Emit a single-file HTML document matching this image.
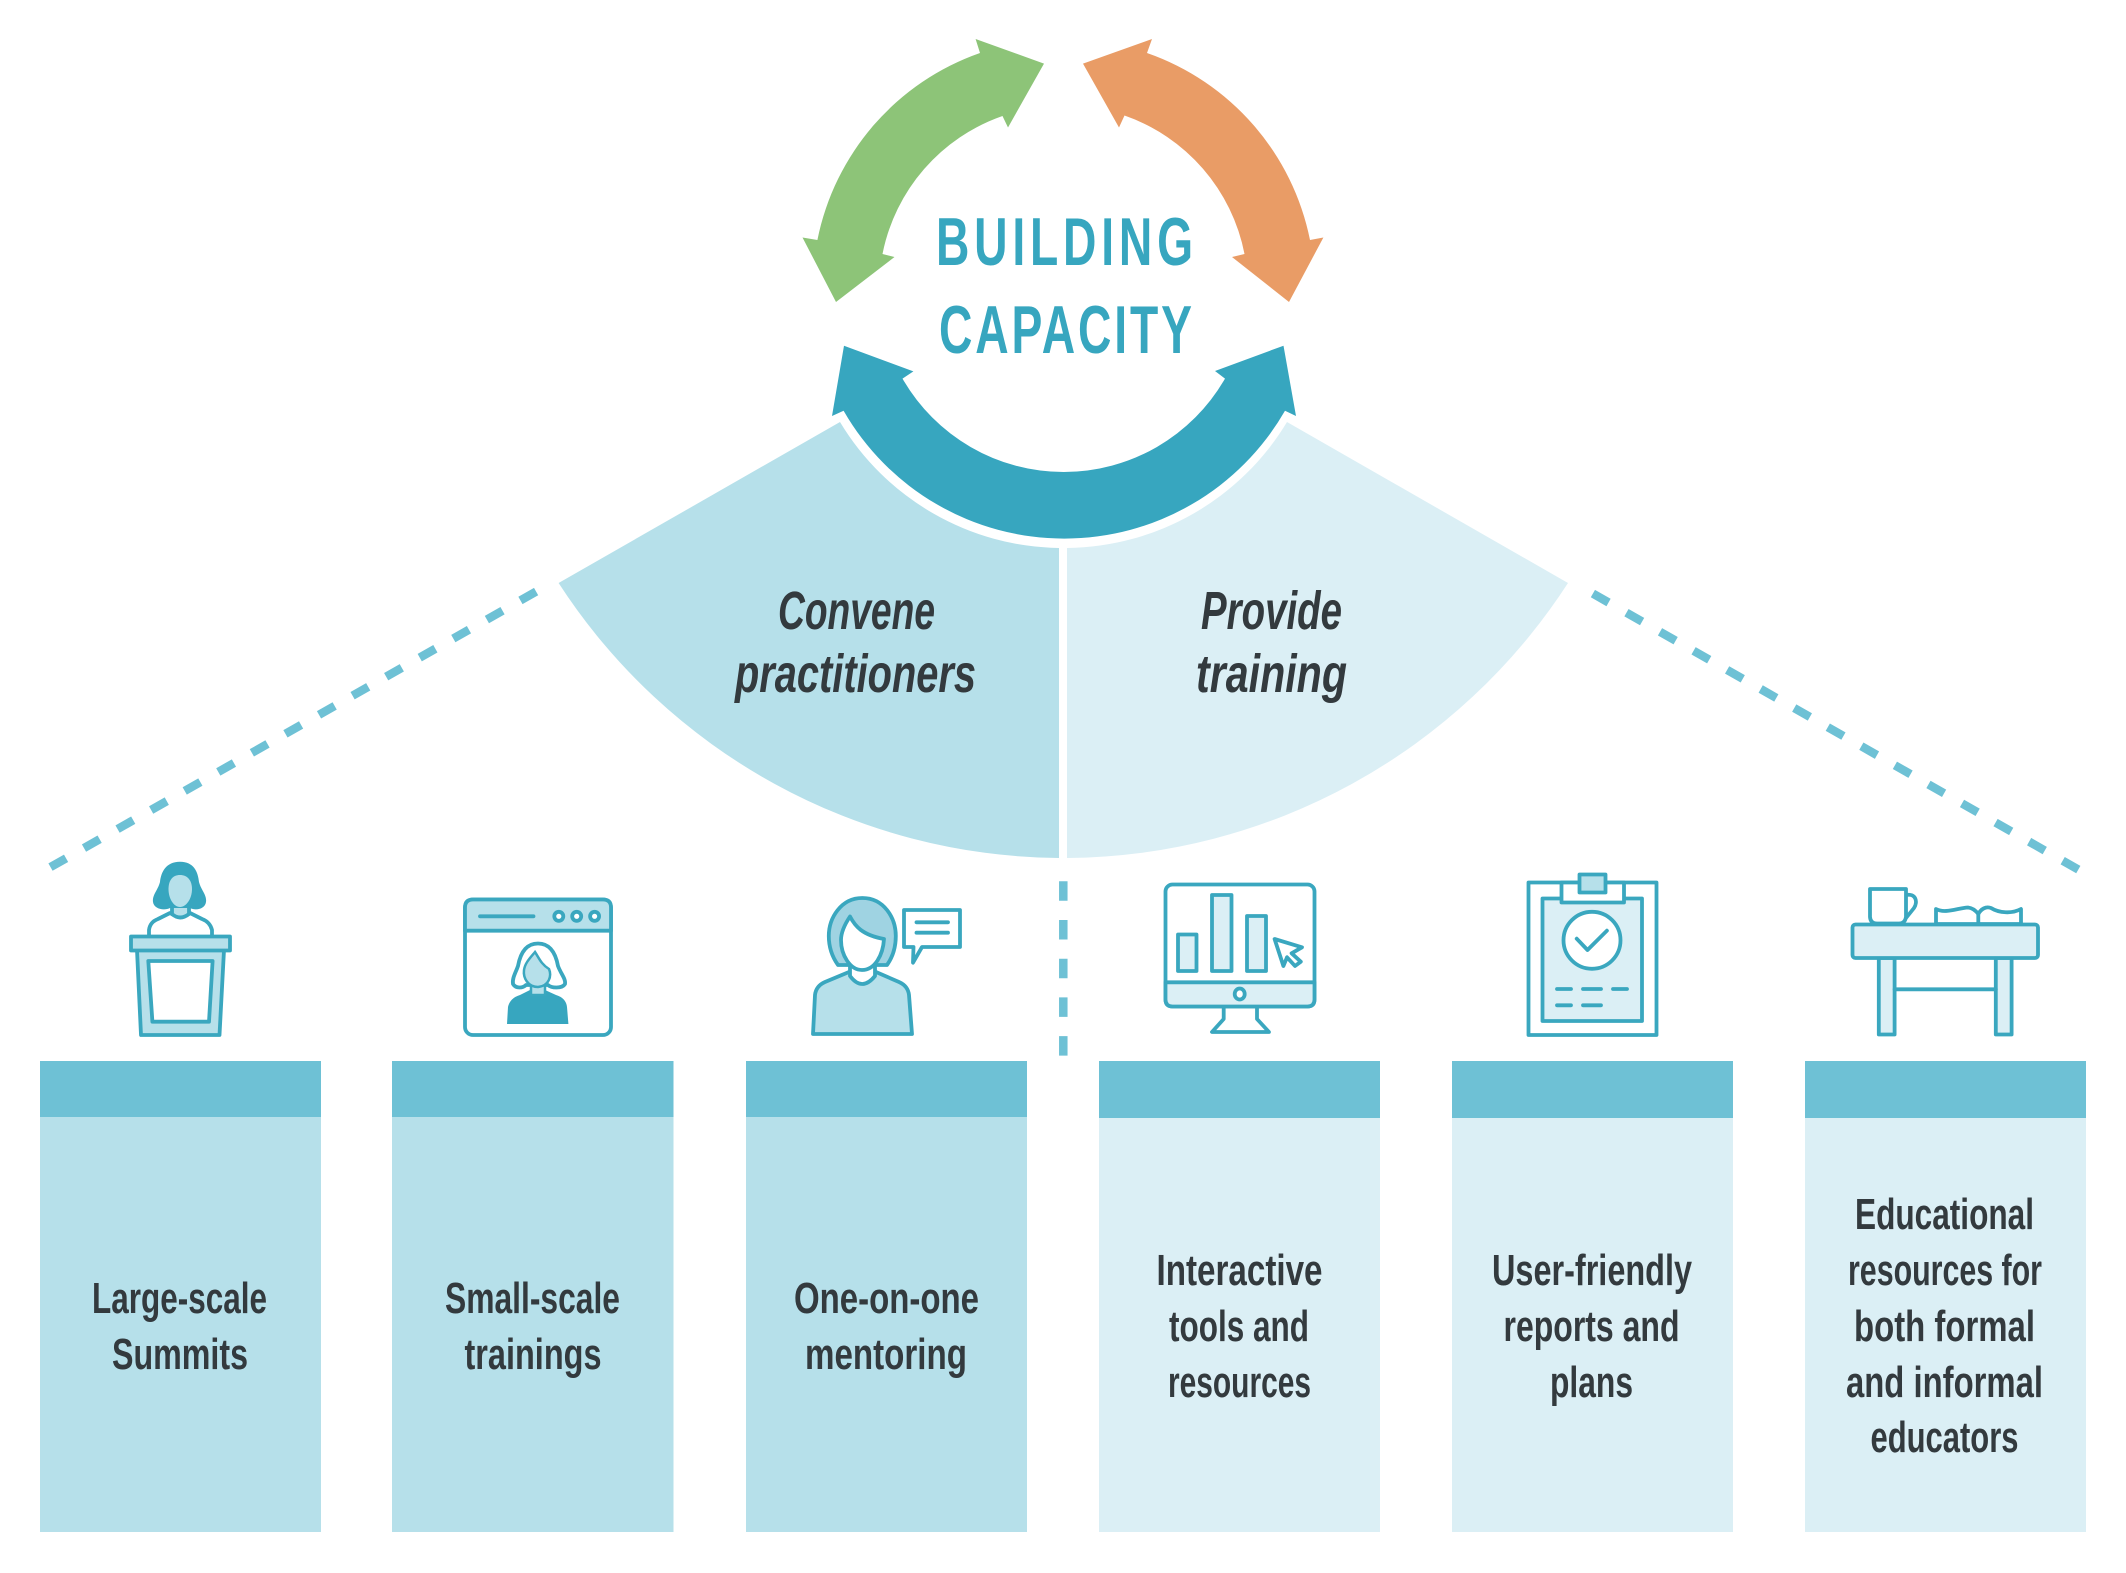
<!DOCTYPE html>
<html><head><meta charset="utf-8"><style>
html,body{margin:0;padding:0;background:#fff;width:2126px;height:1573px;overflow:hidden}
svg{display:block}
text{font-family:"Liberation Sans",sans-serif;font-weight:bold}
.l{font-size:44px;fill:#333a3e}
.i{font-size:54px;fill:#333a3e;font-style:italic}
.t{font-size:68px;fill:#37a6bf}
.s{fill:none;stroke:#3aa7bf;stroke-width:3.8;stroke-linejoin:round;stroke-linecap:round}
.sl{fill:#b6e0ea;stroke:#3aa7bf;stroke-width:3.8;stroke-linejoin:round;stroke-linecap:round}
.sx{fill:#dbeff5;stroke:#3aa7bf;stroke-width:3.8;stroke-linejoin:round;stroke-linecap:round}
.sw{fill:#fff;stroke:#3aa7bf;stroke-width:3.8;stroke-linejoin:round;stroke-linecap:round}
</style></head><body>
<svg width="2126" height="1573" viewBox="0 0 2126 1573" xmlns="http://www.w3.org/2000/svg">
<rect width="2126" height="1573" fill="#fff"/>

<!-- wedges -->
<path d="M840,422 L558.6,583 A602,602 0 0 0 1059,858 L1059,548 A260,260 0 0 1 840,422 Z" fill="#b6e0ea"/>
<path d="M1287,422 L1568,583 A602,602 0 0 1 1067,858 L1067,548 A260,260 0 0 0 1287,422 Z" fill="#dbeff5"/>

<!-- cycle arrows -->
<path d="M1044,63.6 L975.6,39 L980,53 A250,250 0 0 0 817.4,240 L802.5,237.5 L836,302 L894.5,257 L882.5,254 A184,184 0 0 1 1002.5,116 L1008,127.5 Z" fill="#8dc478"/>
<path d="M1083,63.6 L1152,39 L1147,53 A250,250 0 0 1 1310,240 L1323.4,237.5 L1289,302 L1232,257 L1244.5,254 A184,184 0 0 0 1124.5,115.5 L1119,127.5 Z" fill="#e99c66"/>
<path d="M844,345.7 L913.4,371.4 L902.5,378.6 A185.9,185.9 0 0 0 1225,378.6 L1215,371 L1283.5,345.7 L1296,416 L1285,410.7 A254.4,254.4 0 0 1 843.6,410.7 L832,416 Z" fill="#37a6bf"/>

<text class="t" transform="translate(936,265) scale(.68,1)" textLength="378" lengthAdjust="spacing">BUILDING</text>
<text class="t" transform="translate(939,353) scale(.68,1)" textLength="372" lengthAdjust="spacing">CAPACITY</text>

<text class="i" x="778" y="629" textLength="157" lengthAdjust="spacingAndGlyphs">Convene</text>
<text class="i" x="735" y="692" textLength="241" lengthAdjust="spacingAndGlyphs">practitioners</text>
<text class="i" x="1201" y="629" textLength="141" lengthAdjust="spacingAndGlyphs">Provide</text>
<text class="i" x="1196" y="692" textLength="151" lengthAdjust="spacingAndGlyphs">training</text>

<!-- dashed connectors -->
<line x1="536.1" y1="591.6" x2="50.5" y2="867.1" stroke="#6ec1d5" stroke-width="8.5" stroke-dasharray="18 20.6"/>
<line x1="1592.9" y1="593.6" x2="2078.5" y2="869.7" stroke="#6ec1d5" stroke-width="8.5" stroke-dasharray="18 20.6"/>
<line x1="1063.3" y1="881.3" x2="1063.3" y2="1056" stroke="#6ec1d5" stroke-width="8.5" stroke-dasharray="19.5 19.2"/>

<!-- boxes -->
<rect x="40" y="1061" width="281" height="471" fill="#b6e0ea"/><rect x="40" y="1061" width="281" height="56" fill="#6ec1d5"/>
<rect x="392" y="1061" width="281.5" height="471" fill="#b6e0ea"/><rect x="392" y="1061" width="281.5" height="56" fill="#6ec1d5"/>
<rect x="746" y="1061" width="281" height="471" fill="#b6e0ea"/><rect x="746" y="1061" width="281" height="56" fill="#6ec1d5"/>
<rect x="1099" y="1061" width="281" height="471" fill="#dbeff5"/><rect x="1099" y="1061" width="281" height="57" fill="#6ec1d5"/>
<rect x="1452" y="1061" width="281" height="471" fill="#dbeff5"/><rect x="1452" y="1061" width="281" height="57" fill="#6ec1d5"/>
<rect x="1805" y="1061" width="281" height="471" fill="#dbeff5"/><rect x="1805" y="1061" width="281" height="57" fill="#6ec1d5"/>

<!-- labels -->
<text class="l" x="92" y="1313" textLength="175" lengthAdjust="spacingAndGlyphs">Large-scale</text>
<text class="l" x="112" y="1369" textLength="136" lengthAdjust="spacingAndGlyphs">Summits</text>
<text class="l" x="445" y="1313" textLength="175" lengthAdjust="spacingAndGlyphs">Small-scale</text>
<text class="l" x="464.5" y="1369" textLength="137" lengthAdjust="spacingAndGlyphs">trainings</text>
<text class="l" x="794" y="1313" textLength="185" lengthAdjust="spacingAndGlyphs">One-on-one</text>
<text class="l" x="805" y="1369" textLength="162" lengthAdjust="spacingAndGlyphs">mentoring</text>
<text class="l" x="1156.5" y="1285" textLength="166" lengthAdjust="spacingAndGlyphs">Interactive</text>
<text class="l" x="1169" y="1341" textLength="140" lengthAdjust="spacingAndGlyphs">tools and</text>
<text class="l" x="1168" y="1397" textLength="143" lengthAdjust="spacingAndGlyphs">resources</text>
<text class="l" x="1492" y="1285" textLength="200" lengthAdjust="spacingAndGlyphs">User-friendly</text>
<text class="l" x="1503.5" y="1341" textLength="176" lengthAdjust="spacingAndGlyphs">reports and</text>
<text class="l" x="1550" y="1397" textLength="83" lengthAdjust="spacingAndGlyphs">plans</text>
<text class="l" x="1855" y="1229" textLength="179" lengthAdjust="spacingAndGlyphs">Educational</text>
<text class="l" x="1848" y="1285" textLength="194" lengthAdjust="spacingAndGlyphs">resources for</text>
<text class="l" x="1854" y="1341" textLength="181" lengthAdjust="spacingAndGlyphs">both formal</text>
<text class="l" x="1846" y="1397" textLength="197" lengthAdjust="spacingAndGlyphs">and informal</text>
<text class="l" x="1870.5" y="1452" textLength="148" lengthAdjust="spacingAndGlyphs">educators</text>

<!-- icon 1: podium -->
<path class="s" d="M149,936 L149,930 Q150,922 158,919 L170,913 Q180,920 190,913 L202,919 Q210,922 212,930 L212,936"/>
<path class="sl" d="M172,905 L172,914 Q180,921 189,914 L189,905 Z"/>
<path d="M180,861.7 C194,861.7 198,872 199,882 C201,890 207,895 206,902 C205,909 196,911 190,908 L170,908 C164,911 154,909 153,902 C152,895 158,890 160,882 C161,872 166,861.7 180,861.7 Z" fill="#37a6bf"/>
<path d="M180,875 C187,875 192,880 192,889 C192,899 186,907 180,907 C174,907 168.5,899 168.5,889 C168.5,880 173,875 180,875 Z" fill="#b6e0ea"/>
<path class="sl" d="M137,950 L224,950 L219.5,1035 L141,1035 Z"/>
<rect class="sl" x="131" y="936.5" width="99" height="14"/>
<path class="sw" d="M148.3,961 L212.6,961 L209,1021.7 L152.4,1021.7 Z"/>

<!-- icon 2: window -->
<rect class="sw" x="465" y="899.5" width="146" height="135.5" rx="8"/>
<path class="sl" d="M465,930.7 L465,907.5 Q465,899.5 473,899.5 L603,899.5 Q611,899.5 611,907.5 L611,930.7 Z"/>
<line class="s" x1="480" y1="916.3" x2="533.5" y2="916.3"/>
<ellipse class="sw" cx="558.8" cy="916.3" rx="4.5" ry="4.5"/>
<ellipse class="sw" cx="576.7" cy="916.3" rx="4.5" ry="4.5"/>
<ellipse class="sw" cx="594.6" cy="916.3" rx="4.5" ry="4.5"/>
<path d="M507,1024 L508,1007 Q510,998 520,995 L530,990 L545,990 L556,995 Q566,998 567,1007 L568.4,1024 Z" fill="#37a6bf"/>
<path class="sw" d="M538,943.5 C551,943.5 556,955 558,966 C561,974 566,979 565,984 C562,989 551,988 548,985 L526,985 C523,988 516,989 513,984 C512,978 516,972 518,966 C520,955 525,943.5 538,943.5 Z"/>
<rect x="531" y="980" width="14" height="15" fill="#b6e0ea" stroke="#3aa7bf" stroke-width="2.5"/>
<path d="M535,952 C539,958 541,964 549,969 C552,976 549,986 538,987 C528,987 523,978 524,970 C525,963 530,958 535,952 Z" fill="#b6e0ea" stroke="#3aa7bf" stroke-width="2.5"/>

<!-- icon 3: mentor -->
<path class="sl" d="M813,1034 L815,995 Q816,986 825,982 L849,972 Q862,990 876,972 L899,982 Q908,986 909,995 L912,1034 Z"/>
<path class="sw" d="M850,960 L850,976 Q862,992 875,976 L875,960 Z"/>
<path d="M862.3,898 C884,898 895.8,918 895.8,936 C895.8,948 892,958 887,965 L838,965 C833,958 828.8,948 828.8,936 C828.8,918 841,898 862.3,898 Z" fill="#9fd3e2" stroke="#3aa7bf" stroke-width="3.8" stroke-linejoin="round"/>
<path class="sw" d="M850,916.5 C855,926 862,935 884,939 C883,955 875,970 862,970 C850,970 841,955 841,940 C841,932 845,924 850,916.5 Z"/>
<path class="sw" d="M904,910 L960,910 L960,947 L922,947 L913,962.7 L913.5,947 L904,947 Z"/>
<line class="s" x1="916.5" y1="922.3" x2="948" y2="922.3"/>
<line class="s" x1="916.5" y1="932.7" x2="948" y2="932.7"/>

<!-- icon 4: monitor -->
<path class="sw" d="M1223.7,1006 L1223.7,1019 L1212,1032 L1269,1032 L1257,1019 L1257,1006 Z"/>
<rect class="sw" x="1165.5" y="884.5" width="149" height="122" rx="7"/>
<path class="sx" d="M1165.5,982.3 L1314.5,982.3 L1314.5,999.5 Q1314.5,1006.5 1307.5,1006.5 L1172.5,1006.5 Q1165.5,1006.5 1165.5,999.5 Z"/>
<ellipse class="sw" cx="1239.7" cy="994" rx="5" ry="5.5"/>
<rect class="sx" x="1178" y="934.5" width="18.5" height="36.5"/>
<rect class="sx" x="1212" y="895" width="19.5" height="76"/>
<rect class="sx" x="1247" y="916" width="19" height="55"/>
<path class="sw" d="M1274.6,939 L1302,947.3 L1291.6,953.3 L1300.8,961.7 L1295,966 L1287,957.3 L1283.4,966 Z"/>

<!-- icon 5: clipboard -->
<rect class="sw" x="1528.5" y="882.5" width="128" height="152.5"/>
<rect class="sx" x="1542.5" y="898.5" width="99.5" height="122.5"/>
<rect class="sw" x="1561.5" y="882.5" width="62.5" height="20"/>
<rect class="sl" x="1579.5" y="874.5" width="26" height="18"/>
<circle class="sw" cx="1592" cy="940.3" r="28.5"/>
<path class="s" d="M1576.7,938.7 L1587.5,950 L1606.9,930.7"/>
<path class="s" d="M1557,989 H1571 M1583,989 H1601 M1613,989 H1627 M1557,1005.3 H1571 M1583,1005.3 H1601"/>

<!-- icon 6: desk -->
<path class="s" d="M1906,895 C1916,893 1918,902 1914,908 L1906,918"/>
<path class="sw" d="M1870,889 L1906,889 L1906,917 Q1905,923.5 1899,923.5 L1877,923.5 Q1870.5,923.5 1870,917 Z"/>
<path class="sw" d="M1936,924 L1936,909 C1945,914 1958,908 1968,907.5 C1973,908 1976,911 1978.3,914 C1981,909 1986,906 1991,908 C1999,913 2012,914 2021,909 L2021,924 Z"/>
<line class="s" x1="1978.3" y1="914" x2="1978.3" y2="924"/>
<rect class="sx" x="1878.8" y="958" width="15.8" height="76.5"/>
<rect class="sx" x="1995.8" y="958" width="15.8" height="76.5"/>
<line class="s" x1="1894.6" y1="989.3" x2="1995.8" y2="989.3"/>
<rect class="sx" x="1852.5" y="924.5" width="185.5" height="33.5" rx="3"/>
</svg>
</body></html>
